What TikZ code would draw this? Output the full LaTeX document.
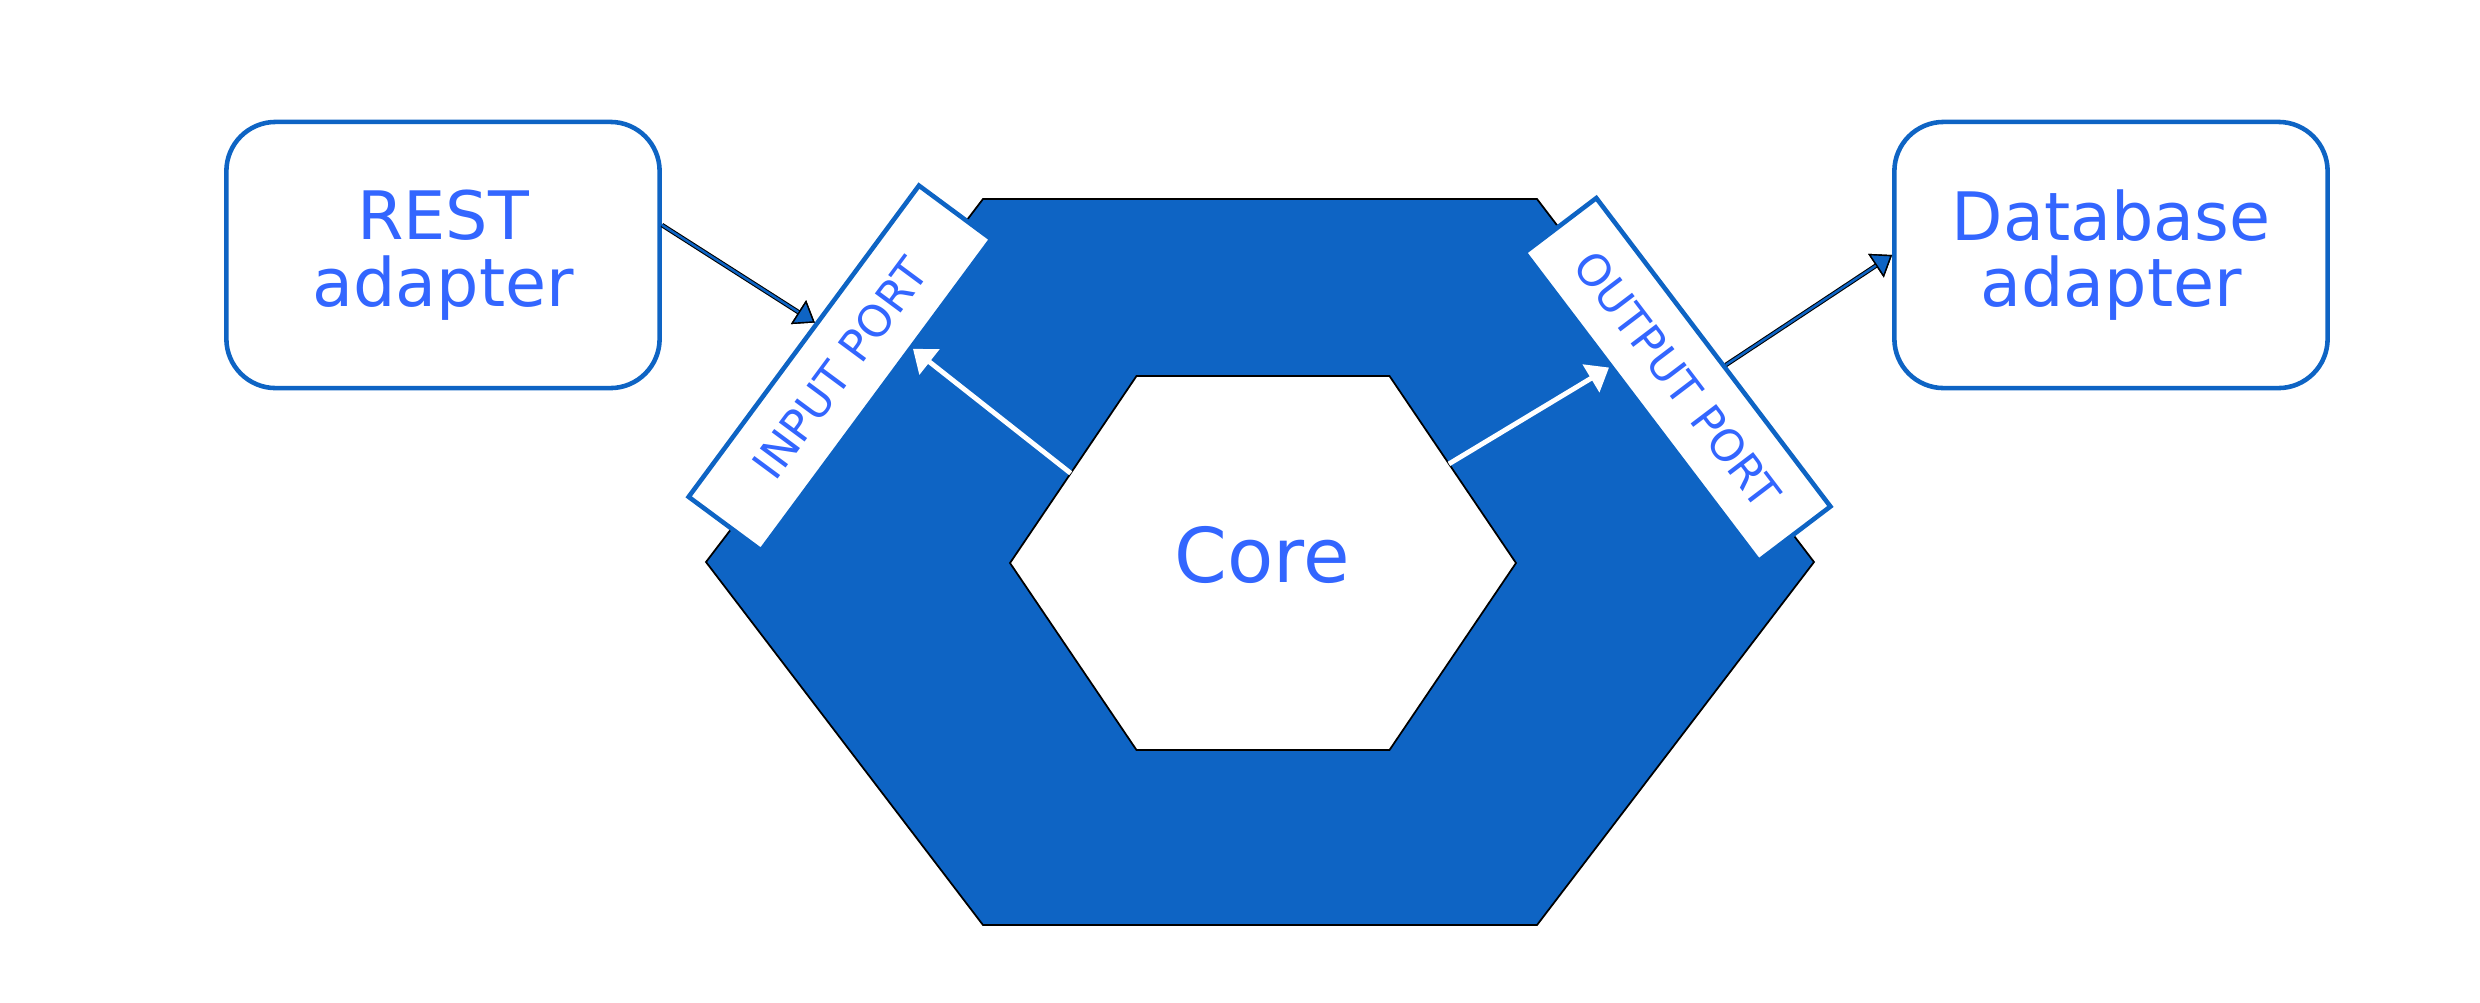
\documentclass[tikz,border=0pt]{standalone}
\usepackage{fontspec}
\setmainfont{DejaVu Sans}
\usetikzlibrary{calc,arrows.meta}
\definecolor{hexblue}{HTML}{0E64C4}
\definecolor{labelblue}{HTML}{3366FF}
\tikzset{
  adapter/.style={draw=hexblue, line width=1.3pt, rounded corners=14pt, fill=white,
    text=labelblue, align=center, minimum width=4.33cm, minimum height=2.66cm,
    font=\fontsize{19}{19}\selectfont},
  port/.style={draw=hexblue, line width=1.3pt, fill=white, text=labelblue,
    minimum width=3.87cm, minimum height=0.9cm, inner sep=0pt,
    font=\fontsize{12.5}{13}\selectfont},
  linkcase/.style={black, line width=1.3pt,
    -{Triangle[length=5.5pt, width=8pt, line width=0.4pt]}},
  linkfill/.style={hexblue, line width=0.7pt,
    -{Triangle[length=5.5pt, width=8pt, line width=0.4pt, color=black, fill=hexblue]}},
  corelink/.style={white, line width=1.4pt, -{Triangle[length=6pt, width=9pt]}},
}
\newcommand{\defhex}[4]{ % name, center, half width, half height
  \coordinate (#1-l)  at ($#2 + (-#3,0)$);
  \coordinate (#1-tl) at ($#2 + (-#3/2,-#4)$);
  \coordinate (#1-tr) at ($#2 + (#3/2,-#4)$);
  \coordinate (#1-r)  at ($#2 + (#3,0)$);
  \coordinate (#1-br) at ($#2 + (#3/2,#4)$);
  \coordinate (#1-bl) at ($#2 + (-#3/2,#4)$);
}
\newcommand{\drawhex}[2]{
  \draw[#2] (#1-l) -- (#1-tl) -- (#1-tr) -- (#1-r) -- (#1-br) -- (#1-bl) -- cycle;
}

\begin{document}
\begin{tikzpicture}[x=0.01cm, y=-0.01cm]
  \useasboundingbox (0,0) rectangle (2480,1002);
  \defhex{ring}{(1260,562)}{554}{363}
  \defhex{inner}{(1263,563)}{253}{187}
  \drawhex{ring}{fill=hexblue, draw=black, line width=0.5pt}
  \drawhex{inner}{fill=white, draw=black, line width=0.5pt}
  \node[font=\fontsize{21.5}{22}\selectfont, text=labelblue, anchor=base] (core) at (1262,582) {Core};

  \node[port, rotate=53.5] (inport) at (840,368) {INPUT PORT};
  \node[port, rotate=-52.8] (outport) at (1677.5,379.5) {OUTPUT PORT};
  \node[adapter] (rest) at (443,255) {REST\\adapter};
  \node[adapter] (db) at (2111,255) {Database\\adapter};

  % core to the ports
  \draw[corelink] ($(inner-l)!0.48!(inner-tl)$) -- ($(inport.south)!0.3!(inport.south east)$);
  \draw[corelink] ($(inner-tr)!0.47!(inner-r)$) -- ($(outport.south)!0.26!(outport.south west)$);

  % adapters
  \coordinate (restout) at ($(rest.east)+(0,-30)$);
  \coordinate (inportin) at ($(inport.north)!0.11!(inport.north east)$);
  \coordinate (outportout) at ($(outport.north)!0.09!(outport.north east)$);
  \draw[linkcase] (restout) -- (inportin);
  \draw[linkfill] (restout) -- (inportin);
  \draw[linkcase] (outportout) -- (db.west);
  \draw[linkfill] (outportout) -- (db.west);
\end{tikzpicture}
\end{document}
